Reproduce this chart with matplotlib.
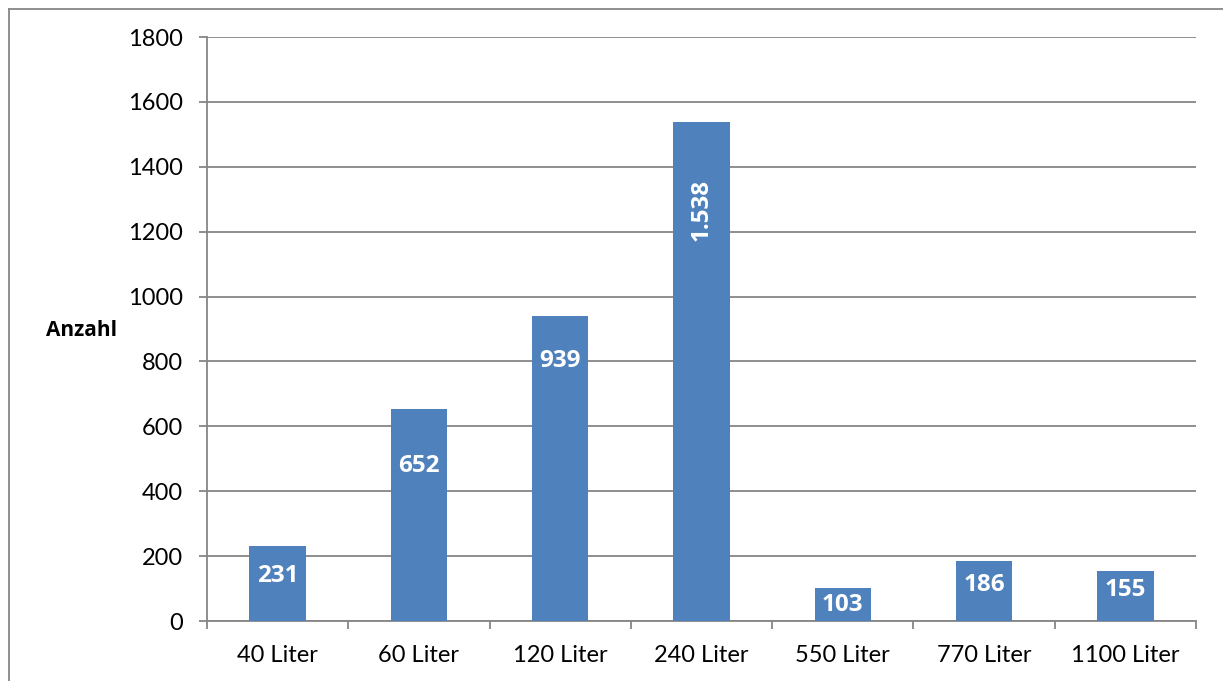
import matplotlib.pyplot as plt
from matplotlib.lines import Line2D

# bin sizes and counts
categories = ["40 Liter", "60 Liter", "120 Liter", "240 Liter", "550 Liter", "770 Liter", "1100 Liter"]
counts = [231, 652, 939, 1538, 103, 186, 155]
value_labels = ["231", "652", "939", "1.538", "103", "186", "155"]
y_ticks = [0, 200, 400, 600, 800, 1000, 1200, 1400, 1600, 1800]

# label centre distance below bar top (pixels), rotated flag
label_offsets = [30, 57, 45, 88, 17, 24, 19]
label_rotated = [False, False, False, True, False, False, False]

plt.rcParams["font.family"] = ["Lato", "DejaVu Sans"]
bold_family = ["Open Sans", "DejaVu Sans"]
bar_color = "#4F81BD"
grid_color = "#868686"

fig = plt.figure(figsize=(12.23, 6.81), dpi=100)
ax = fig.add_axes([207 / 1223, 1 - 621 / 681, (1196 - 207) / 1223, (621 - 37) / 681])

x = list(range(len(categories)))
ax.bar(x, counts, width=0.40, color=bar_color, zorder=3)

ax.set_xlim(-0.5, len(categories) - 0.5)
ax.set_ylim(0, 1800)
ax.set_yticks(y_ticks)
ax.set_yticklabels([str(v) for v in y_ticks], fontsize=17)
ax.yaxis.grid(True, color=grid_color, linewidth=1.3, zorder=0)

ax.set_xticks(x)
ax.set_xticklabels(categories, fontsize=17)
ax.tick_params(axis="x", which="major", length=0, pad=17)
ax.set_xticks([i - 0.5 for i in range(len(categories) + 1)], minor=True)
ax.tick_params(axis="x", which="minor", length=6, width=1.3, color=grid_color)
ax.tick_params(axis="y", length=5.5, width=1.3, color=grid_color, pad=12)

for side in ["top", "right"]:
    ax.spines[side].set_visible(False)
for side in ["left", "bottom"]:
    ax.spines[side].set_color(grid_color)
    ax.spines[side].set_linewidth(1.3)

for xi, val, lab, off, rot in zip(x, counts, value_labels, label_offsets, label_rotated):
    ax.annotate(lab, xy=(xi, val), xytext=(0, -off * 0.72), textcoords="offset points",
                ha="center", va="center", color="white", fontsize=17.5, fontweight="bold",
                family=bold_family, rotation=90 if rot else 0, zorder=4)

fig.text(81 / 1223, 1 - 331 / 681, "Anzahl", fontsize=15, fontweight="bold",
         family=bold_family, ha="center", va="center")

# outer chart frame
fig.add_artist(Line2D([9 / 1223, 1.0], [1 - 9 / 681, 1 - 9 / 681], color=grid_color, linewidth=1.3))
fig.add_artist(Line2D([9 / 1223, 9 / 1223], [0.0, 1 - 9 / 681], color=grid_color, linewidth=1.3))

fig.savefig("out.png", dpi=100)
